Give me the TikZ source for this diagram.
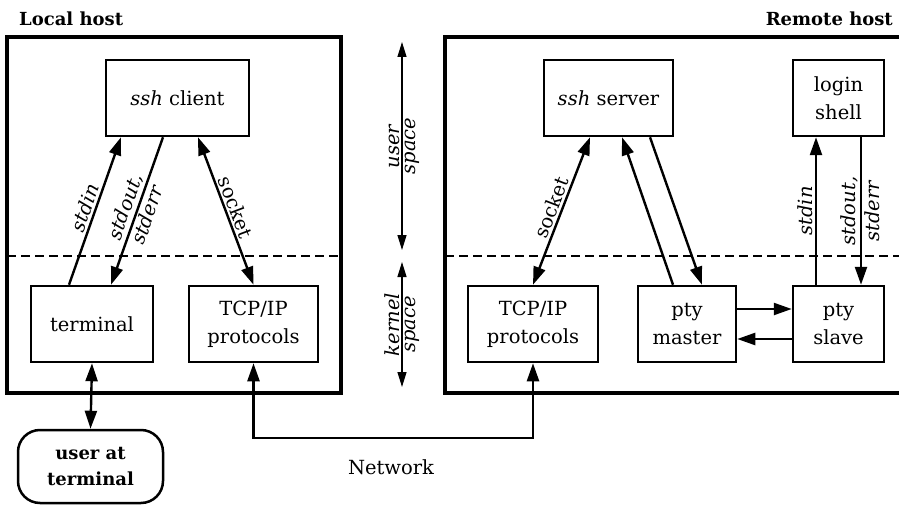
\documentclass[tikz,border=0pt]{standalone}
\usepackage{fontspec}
\setmainfont{DejaVu Serif}
\usepackage{tikz}
\usetikzlibrary{arrows.meta}

\tikzset{
    box/.style={draw, line width=2.5pt, minimum height=76pt, align=center, inner sep=2pt},
    hostframe/.style={line width=3.3pt},
    layer/.style={line width=2.3pt, dash pattern=on 9pt off 5pt},
    link/.style={line width=2.4pt, >={Triangle[length=18pt, width=12pt]}},
    spanarrow/.style={line width=1.3pt, <->, >={Triangle[length=15pt, width=9pt]}},
    tag/.style={inner sep=2pt},
    boldtext/.style={font=\fontsize{18}{26}\selectfont\bfseries},
}

\begin{document}
\begin{tikzpicture}[x=1pt, y=-1pt, font=\fontsize{19.5}{28}\selectfont]
    \useasboundingbox (0,0) rectangle (899,505);

    % host frames
    \draw[hostframe] (7,37) rectangle (341,393);
    \draw[hostframe] (899,37) -| (445,393) -- (899,393);
    \node[boldtext, anchor=base west, inner sep=0pt] (lhost) at (19,26) {Local host};
    \node[boldtext, anchor=base east, inner sep=0pt] (rhost) at (893,26) {Remote host};

    % user / kernel boundary
    \coordinate (ll) at (7,256);
    \coordinate (lr) at (341,256);
    \coordinate (rl) at (445,256);
    \coordinate (rr) at (899,256);
    \draw[layer] (ll) -- (lr);
    \draw[layer] (rl) -- (rr);

    \coordinate (ustop) at (402,42);
    \coordinate (usbot) at (402,250);
    \coordinate (kstop) at (402,262);
    \coordinate (ksbot) at (402,387);
    \draw[spanarrow] (usbot) -- (ustop)
        node[tag, midway, sloped, above] {\textit{user}}
        node[tag, midway, sloped, below] {\textit{space}};
    \draw[spanarrow] (ksbot) -- (kstop)
        node[tag, midway, sloped, above] {\textit{kernel}}
        node[tag, midway, sloped, below] {\textit{space}};

    % local host
    \node[box, minimum width=143pt] (client) at (177.5,98) {\textit{ssh} client};
    \node[box, minimum width=122pt] (term) at (92,324) {terminal};
    \node[box, minimum width=129pt] (tcpL) at (253.5,324) {TCP/IP\\protocols};
    \node[box, boldtext, rounded corners=22pt, minimum width=145pt, minimum height=73pt] (user) at (90.5,466.5) {user at\\terminal};

    \draw[link, ->] ([xshift=-23pt]term.north) -- ([xshift=-56.5pt]client.south)
        node[tag, midway, sloped, above] {\textit{stdin}};
    \draw[link, <-] ([xshift=19pt]term.north) -- ([xshift=-14.5pt]client.south)
        node[tag, midway, sloped, above] {\textit{stdout,}}
        node[tag, midway, sloped, below] {\textit{stderr}};
    \draw[link, <->] ([xshift=20.5pt]client.south) -- (tcpL.north)
        node[tag, midway, sloped, above] {socket};
    \draw[link, <->] (term.south) -- (user.north);

    % remote host
    \node[box, minimum width=129pt] (server) at (608.5,98) {\textit{ssh} server};
    \node[box, minimum width=91pt] (shell) at (838.5,98) {login\\shell};
    \node[box, minimum width=130pt] (tcpR) at (533,324) {TCP/IP\\protocols};
    \node[box, minimum width=98pt] (master) at (687,324) {pty\\master};
    \node[box, minimum width=91pt] (slave) at (838.5,324) {pty\\slave};

    \draw[link, <->] (tcpR.north) -- ([xshift=-18.5pt]server.south)
        node[tag, midway, sloped, above] {socket};
    \draw[link, ->] ([xshift=-14pt]master.north) -- ([xshift=13.5pt]server.south);
    \draw[link, ->] ([xshift=41.5pt]server.south) -- ([xshift=15pt]master.north);
    \draw[link, ->] ([xshift=-22.5pt]slave.north) -- ([xshift=-22.5pt]shell.south)
        node[tag, midway, sloped, above] {\textit{stdin}};
    \draw[link, <-] ([xshift=22.5pt]slave.north) -- ([xshift=22.5pt]shell.south)
        node[tag, midway, sloped, above] {\textit{stdout,}}
        node[tag, midway, sloped, below] {\textit{stderr}};
    \draw[link, ->] ([yshift=15pt]master.east) -- ([yshift=15pt]slave.west);
    \draw[link, ->] ([yshift=-15pt]slave.west) -- ([yshift=-15pt]master.east);

    % network
    \draw[link, <->] (tcpL.south) -- ++(0,75) -| (tcpR.south);
    \node (net) at (391,467) {Network};
\end{tikzpicture}
\end{document}
